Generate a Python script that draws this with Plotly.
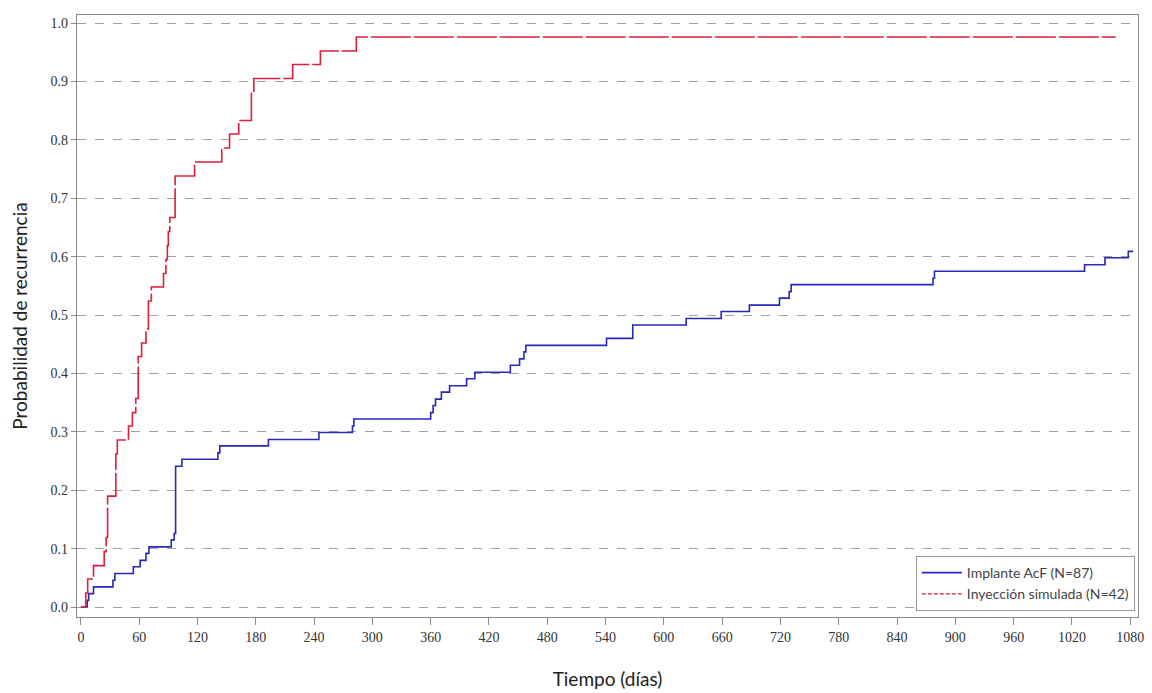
import plotly.graph_objects as go

# Inyección simulada (N=42)
red_t = [0, 5, 7, 13, 24, 26, 27.5, 36, 37.5, 49, 53, 56.5, 59, 62.5, 67, 69.5, 72.5, 85, 87.5, 89,
         90, 91.5, 97, 117, 145, 153, 162.5, 175.5, 178, 218, 246.5, 283.5, 1065]
red_p = [0, .024, .048, .071, .095, .119, .190, .262, .286, .310, .333, .357, .429, .452, .476, .524, .548, .571, .595, .619,
         .643, .667, .738, .762, .786, .810, .833, .881, .905, .929, .952, .976, .976]

# Implante AcF (N=87)
blue_t = [0, 6.5, 8, 13, 33, 35, 54, 61, 67, 70, 93, 96, 97.5, 104, 141, 143, 193, 245, 279.5, 281,
          360, 362.5, 365, 371, 379.5, 397, 405.5, 442, 451.5, 456, 458, 541, 568, 623, 659, 688, 719, 729, 731, 877,
          878.5, 1033, 1054, 1078, 1083]
blue_p = [0, .0115, .023, .0345, .046, .0575, .069, .080, .092, .103, .115, .126, .241, .253, .264, .276, .287, .299, .310, .322,
          .333, .345, .356, .368, .379, .391, .402, .414, .425, .437, .448, .460, .483, .494, .506, .517, .529, .540, .552, .563,
          .575, .586, .598, .609, .609]

x_ticks = list(range(0, 1081, 60))
y_ticks = [round(i * 0.1, 1) for i in range(11)]
y_labels = [f"{v:.1f}" for v in y_ticks]

blue = "rgb(40,40,185)"
red = "rgb(222,30,60)"

fig = go.Figure()
fig.add_trace(go.Scatter(x=blue_t, y=blue_p, mode="lines", line=dict(color=blue, width=1.6, shape="hv"),
                         showlegend=False, hoverinfo="skip"))
fig.add_trace(go.Scatter(x=red_t, y=red_p, mode="lines", line=dict(color=red, width=1.6, shape="hv", dash="40px,3px"),
                         showlegend=False, hoverinfo="skip"))
# legend samples
fig.add_trace(go.Scatter(x=[None], y=[None], mode="lines", line=dict(color=blue, width=1.6),
                         name="Implante AcF (N=87)"))
fig.add_trace(go.Scatter(x=[None], y=[None], mode="lines", line=dict(color=red, width=1.2, dash="4px,2px"),
                         name="Inyección simulada (N=42)"))

fig.update_layout(
    width=1144, height=685,
    margin=dict(l=69, r=14, t=7, b=76, autoexpand=False),
    plot_bgcolor="white", paper_bgcolor="white",
    font=dict(family="Liberation Serif", size=14, color="#333333"),
    legend=dict(x=0.997, y=0.01, xanchor="right", yanchor="bottom",
                bordercolor="#999999", borderwidth=1, bgcolor="white",
                font=dict(family="Lato, Open Sans, sans-serif", size=14, color="#444444"),
                tracegroupgap=0, itemwidth=40),
)
fig.update_xaxes(range=[-4, 1088], tickvals=x_ticks, ticktext=[str(v) for v in x_ticks],
                 showgrid=False, zeroline=False, automargin=False,
                 showline=True, linecolor="#8a8a8a", linewidth=1.3, mirror=True,
                 ticks="outside", ticklen=7, tickcolor="#8a8a8a",
                 tickfont=dict(family="Liberation Serif", size=14, color="#333333"),
                 title=dict(text="Tiempo (días)", standoff=28,
                            font=dict(family="Lato, Open Sans, sans-serif", size=19, color="#222222")))
fig.update_yaxes(range=[-0.017, 1.0137], tickvals=y_ticks, ticktext=y_labels,
                 showgrid=True, gridcolor="#a0a0a0", gridwidth=1, griddash="dash", zeroline=False, automargin=False,
                 showline=True, linecolor="#8a8a8a", linewidth=1.3, mirror=True,
                 ticks="outside", ticklen=5, tickcolor="#8a8a8a",
                 tickfont=dict(family="Liberation Serif", size=14, color="#333333"),
                 title=dict(text="Probabilidad de recurrencia", standoff=20,
                            font=dict(family="Lato, Open Sans, sans-serif", size=19, color="#222222")))

fig.write_html("out.html")
